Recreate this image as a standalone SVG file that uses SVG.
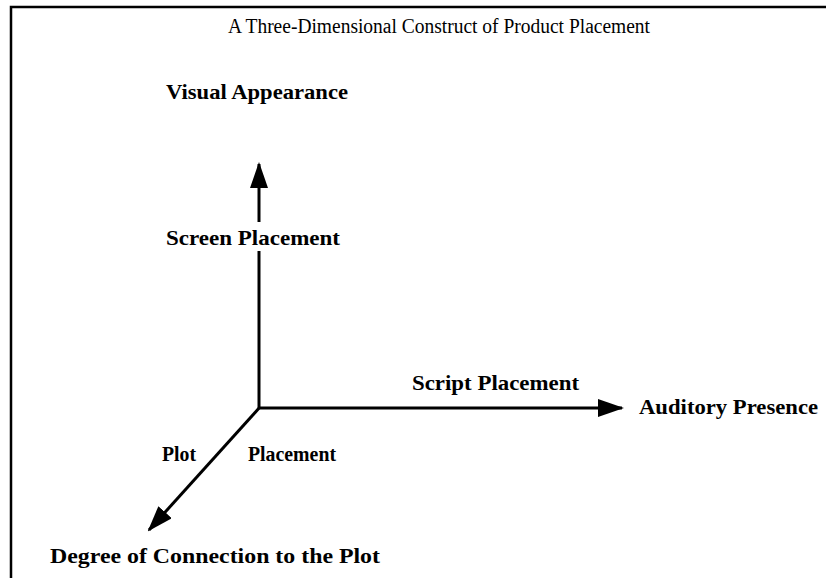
<svg xmlns="http://www.w3.org/2000/svg" width="826" height="578" viewBox="0 0 826 578">
  <style>
    .title { font-family: "Liberation Serif", "Times New Roman", serif; font-size: 20px; fill: #000; }
    .lbl { font-family: "Liberation Serif", "Times New Roman", serif; font-size: 21px; font-weight: bold; fill: #000; }
    .axis { stroke: #000; stroke-width: 3; fill: none; }
    .frame { stroke: #000; stroke-width: 2.5; fill: none; }
  </style>
  <defs>
    <marker id="head" viewBox="0 0 26 18" refX="24" refY="9" markerWidth="26" markerHeight="18" markerUnits="userSpaceOnUse" orient="auto">
      <path d="M0,0 L26,9 L0,18 Z" fill="#000"/>
    </marker>
  </defs>
  <rect x="0" y="0" width="826" height="578" fill="#fff"/>
  <!-- frame: top and left edges -->
  <path class="frame" d="M826,7 H11 V578"/>
  <text class="title" x="228" y="33" textLength="422" lengthAdjust="spacingAndGlyphs">A Three-Dimensional Construct of Product Placement</text>

  <g id="connectors">
    <!-- vertical axis, interrupted where its label sits -->
    <line class="axis" x1="259" y1="408" x2="259" y2="251"/>
    <line class="axis" x1="259" y1="222" x2="259" y2="164" marker-end="url(#head)"/>
    <line class="axis" x1="258" y1="408" x2="622" y2="408" marker-end="url(#head)"/>
    <line class="axis" x1="260" y1="407" x2="149" y2="530" marker-end="url(#head)"/>
  </g>

  <g id="visual-appearance">
    <text class="lbl" x="166" y="99" textLength="182" lengthAdjust="spacingAndGlyphs">Visual  Appearance</text>
  </g>
  <g id="screen-placement">
    <text class="lbl" x="166" y="245" textLength="174" lengthAdjust="spacingAndGlyphs">Screen  Placement</text>
  </g>
  <g id="script-placement">
    <text class="lbl" x="412" y="390" textLength="167" lengthAdjust="spacingAndGlyphs">Script  Placement</text>
  </g>
  <g id="auditory-presence">
    <text class="lbl" x="639" y="414" textLength="179" lengthAdjust="spacingAndGlyphs">Auditory  Presence</text>
  </g>
  <g id="plot-placement">
    <text class="lbl" x="162" y="461" textLength="34" lengthAdjust="spacingAndGlyphs">Plot</text>
    <text class="lbl" x="248" y="461" textLength="88" lengthAdjust="spacingAndGlyphs">Placement</text>
  </g>
  <g id="degree-of-connection">
    <text class="lbl" x="50" y="563" textLength="330" lengthAdjust="spacingAndGlyphs">Degree  of  Connection  to  the  Plot</text>
  </g>
</svg>
